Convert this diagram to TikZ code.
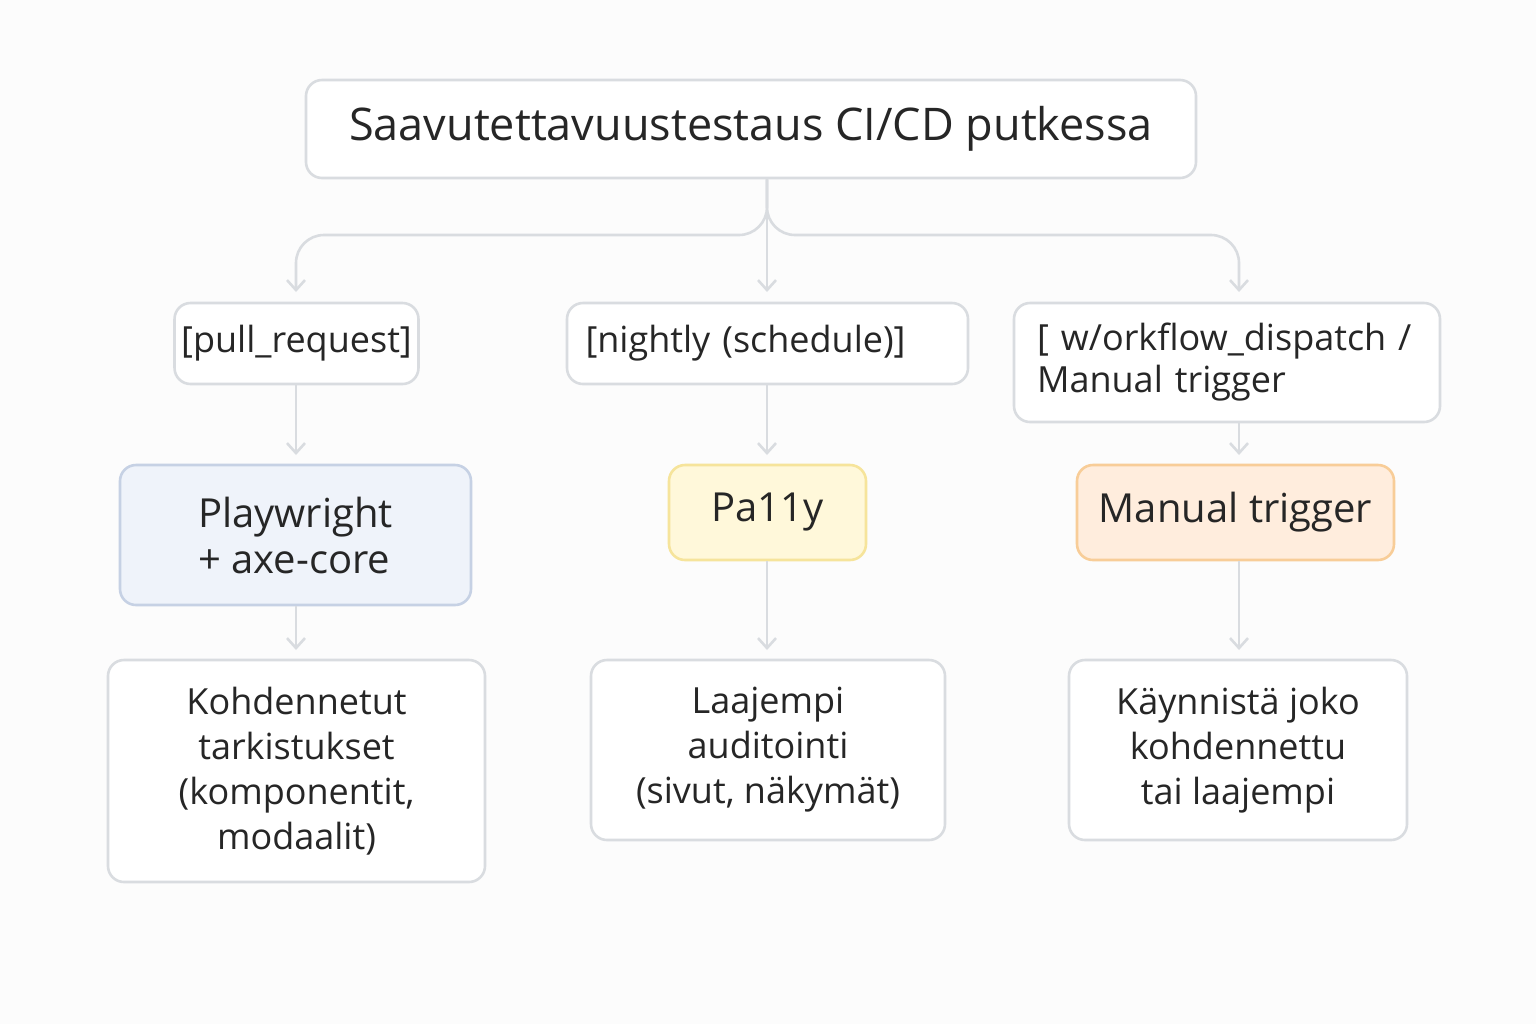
\documentclass[tikz,border=0pt]{standalone}
\usepackage{fontspec}
\setmainfont{Open Sans}
\usetikzlibrary{arrows.meta}
\definecolor{ln}{HTML}{D9DCE0}
\begin{document}
\begin{tikzpicture}[x=0.5pt,y=-0.5pt,
 box/.style={draw=ln,line width=1.3pt,rounded corners=8pt,fill=white,text=black!85},
 conn/.style={draw=ln,line width=1.3pt,-{Straight Barb[length=5pt,width=9pt]}},
 lbl/.style={font=\fontsize{18}{21}\selectfont,align=left}]
\fill[fill={rgb,255:red,252;green,252;blue,252}] (0,0) rectangle (1536,1024);
\useasboundingbox (0,0) rectangle (1536,1024);
\node[box,minimum width=445pt,minimum height=49pt,font=\fontsize{22.5}{26}\selectfont] (t) at (751,129) {\raisebox{-2pt}{Saavutettavuustestaus CI/CD putkessa}};
\node[box,lbl,minimum width=119.5pt,minimum height=40.5pt] (a1) at (296.5,343.5) {[pull\_request]};
\node[box,lbl,minimum width=200.5pt,minimum height=40.5pt,text width=182pt] (a2) at (767.5,343.5) {[nightly (schedule)]};
\node[box,lbl,minimum width=213pt,minimum height=59.5pt,text width=190pt] (a3) at (1227,362.5) {[ w/orkflow\_dispatch /\\Manual trigger};
\node[box,fill={rgb,255:red,239;green,243;blue,250},draw={rgb,255:red,198;green,209;blue,228},minimum width=175.5pt,minimum height=70pt,font=\fontsize{20}{23}\selectfont,align=left] (b1) at (295.5,535) {Playwright\\+ axe-core};
\node[box,fill={rgb,255:red,255;green,248;blue,218},draw={rgb,255:red,246;green,228;blue,155},minimum width=98.5pt,minimum height=47.5pt,font=\fontsize{20}{24}\selectfont] (b2) at (767.5,512.5) {\raisebox{-2pt}{Pa11y}};
\node[box,fill={rgb,255:red,255;green,237;blue,221},draw={rgb,255:red,248;green,205;blue,152},minimum width=158.5pt,minimum height=47.5pt,font=\fontsize{20}{24}\selectfont] (b3) at (1235.5,512.5) {\raisebox{-2pt}{Manual trigger}};
\node[box,minimum width=188.5pt,minimum height=111pt,font=\fontsize{18}{22.5}\selectfont,align=center] (c1) at (296.5,771) {Kohdennetut\\tarkistukset\\(komponentit,\\modaalit)};
\node[box,minimum width=177pt,minimum height=90pt,font=\fontsize{18}{22.5}\selectfont,align=center] (c2) at (768,750) {Laajempi\\auditointi\\(sivut, näkymät)};
\node[box,minimum width=169pt,minimum height=90pt,font=\fontsize{18}{22.5}\selectfont,align=center] (c3) at (1238,750) {Käynnistä joko\\kohdennettu\\tai laajempi};
\coordinate (j) at (767,235);
\draw[conn] (t.south -| j) -- (767,292);
\draw[conn,rounded corners=14pt] (t.south -| j) -- (767,235) -- (296,235) -- (296,292);
\draw[conn,rounded corners=14pt] (t.south -| j) -- (767,235) -- (1239,235) -- (1239,292);
\draw[conn] (a1.south -| 296,0) -- (296,455);
\draw[conn] (a2.south -| 767,0) -- (767,455);
\draw[conn] (a3.south -| 1239,0) -- (1239,455);
\draw[conn] (b1.south -| 296,0) -- (296,650);
\draw[conn] (b2.south -| 767,0) -- (767,650);
\draw[conn] (b3.south -| 1239,0) -- (1239,650);
\end{tikzpicture}
\end{document}
